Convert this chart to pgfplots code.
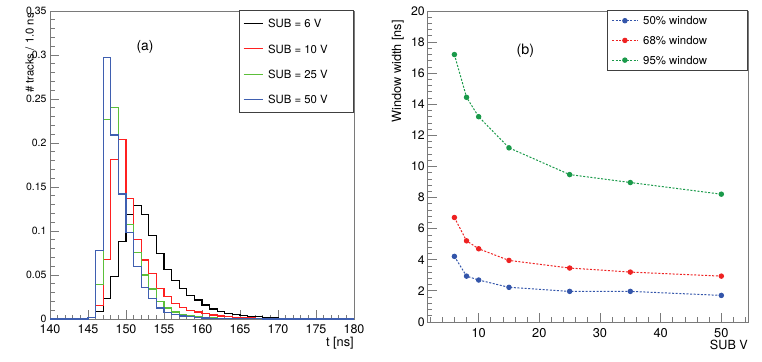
\documentclass[border=0pt]{standalone}
\usepackage{fontspec}
\setmainfont{TeX Gyre Heros}
\usepackage{pgfplots}
\usepackage{pgfplotstable}
\pgfplotsset{compat=1.18}

\definecolor{hred}{HTML}{FF2020}
\definecolor{hgreen}{HTML}{5CBF3A}
\definecolor{hblue}{HTML}{3F5FB0}
\definecolor{wblue}{HTML}{3355AA}
\definecolor{wred}{HTML}{EE2222}
\definecolor{wgreen}{HTML}{1A9A4A}
\definecolor{framegray}{HTML}{7A7A7A}

% time distributions, one row per 1 ns bin (left edge), last row closes the step
\pgfplotstableread{
t    v6     v10    v25    v50
140  0      0      0      0
141  0      0      0      0
142  0      0      0      0
143  0      0      0      0
144  0      0      0      0
145  0.002  0.002  0.002  0.002
146  0.0087 0.0156 0.039  0.0775
147  0.023  0.068  0.227  0.297
148  0.0486 0.181  0.240  0.209
149  0.0885 0.204  0.142  0.142
150  0.119  0.137  0.107  0.098
151  0.129  0.090  0.076  0.060
152  0.119  0.067  0.050  0.036
153  0.095  0.052  0.034  0.023
154  0.074  0.035  0.020  0.0125
155  0.056  0.026  0.0125 0.0075
156  0.044  0.018  0.008  0.005
157  0.035  0.013  0.005  0.0035
158  0.027  0.010  0.0035 0.0025
159  0.0215 0.008  0.0025 0.0018
160  0.016  0.006  0.0018 0.0012
161  0.0113 0.0045 0.0012 0.001
162  0.0083 0.0035 0.001  0.0007
163  0.0064 0.0025 0.0007 0.0005
164  0.005  0.002  0.0005 0.0004
165  0.004  0.0015 0.0004 0.0003
166  0.003  0.0012 0.0003 0.0002
167  0.0025 0.001  0.0003 0.0002
168  0.002  0.0008 0.0002 0.0001
169  0.0015 0.0006 0.0002 0.0001
170  0.001  0.0004 0.0001 0.0001
171  0.0008 0.0003 0.0001 0
172  0.0006 0.0003 0.0001 0
173  0.0005 0.0002 0      0
174  0.0004 0.0002 0      0
175  0.0003 0.0001 0      0
176  0.0002 0.0001 0      0
177  0.0002 0      0      0
178  0.0001 0      0      0
179  0.0001 0      0      0
180  0.0001 0      0      0
}\histtab

% window widths vs substrate voltage
\pgfplotstableread{
sub  w50  w68  w95
6    4.22 6.72 17.2
8    2.95 5.22 14.45
10   2.70 4.71 13.2
15   2.23 3.96 11.2
25   1.97 3.47 9.48
35   1.97 3.21 8.97
50   1.71 2.95 8.22
}\wintab

\pgfplotsset{
  rootax/.style={
    scale only axis,
    axis line style={framegray, line width=0.8pt},
    tick style={framegray, line width=0.8pt},
    tick align=inside,
    major tick length=9pt,
    minor tick length=4.5pt,
    xtick pos=left, ytick pos=left,
    /pgf/number format/assume math mode=true,
    clip=false,
  },
}

\begin{document}
\begin{tikzpicture}
\useasboundingbox (0pt,0pt) rectangle (762pt,361pt);

% (a) histograms
\begin{axis}[rootax,
  at={(50pt,42pt)}, anchor=south west,
  width=304pt, height=308pt,
  xmin=140, xmax=180, ymin=0, ymax=0.35,
  xtick={140,145,...,180}, minor x tick num=4,
  ytick={0,0.05,0.1,0.15,0.2,0.25,0.3,0.35}, minor y tick num=4,
  xticklabel style={font=\fontsize{12.5}{14}\selectfont, inner sep=0pt, yshift=-5pt},
  yticklabel style={font=\fontsize{10.5}{12}\selectfont, inner sep=0pt, xshift=-3.3pt,
    /pgf/number format/fixed, /pgf/number format/precision=2},
  xlabel={t [ns]},
  xlabel style={at={(axis description cs:1,-0.0575)}, anchor=north east, inner sep=0pt,
    font=\fontsize{12.8}{14}\selectfont},
  ylabel={\# tracks / 1.0 ns},
  ylabel style={at={(axis description cs:-0.0526,0.9935)}, anchor=south east, inner sep=0pt,
    font=\fontsize{11.3}{13}\selectfont},
  legend image code/.code={\draw[#1] (0pt,0pt) -- (19pt,0pt);},
  legend style={at={(axis description cs:1,1.003)}, anchor=north east,
    draw=black!75, line width=0.8pt, fill=white,
    font=\fontsize{11.35}{13}\selectfont,
    inner xsep=3.5pt, inner ysep=8.9pt, row sep=16.8pt,
    cells={anchor=center}, nodes={inner sep=0pt, text depth=0pt},
    /tikz/every odd column/.append style={column sep=5pt}},
]
\addplot[const plot, black, line width=1.2pt] table[x=t, y=v6] {\histtab};
\addplot[const plot, hred, line width=1.2pt] table[x=t, y=v10] {\histtab};
\addplot[const plot, hgreen, line width=1.2pt] table[x=t, y=v25] {\histtab};
\addplot[const plot, hblue, line width=1.2pt] table[x=t, y=v50] {\histtab};
\legend{\makebox[82pt][l]{SUB = 6 V}, \makebox[82pt][l]{SUB = 10 V},
        \makebox[82pt][l]{SUB = 25 V}, \makebox[82pt][l]{SUB = 50 V}}
\node[font=\fontsize{13.8}{15}\selectfont] at (axis cs:152.5,0.309) {(a)};
\end{axis}

% (b) window widths
\begin{axis}[rootax,
  at={(427.7pt,39pt)}, anchor=south west,
  width=320.3pt, height=311pt,
  xmin=1.6, xmax=54.4, ymin=0, ymax=20,
  xtick={10,20,...,50}, minor xtick={2,4,6,8,12,14,16,18,22,24,26,28,32,34,36,38,42,44,46,48,52,54},
  ytick={0,2,...,20}, minor y tick num=4,
  xticklabel style={font=\fontsize{12.8}{14}\selectfont, inner sep=0pt, yshift=-6pt},
  yticklabel style={font=\fontsize{12.3}{14}\selectfont, inner sep=0pt, xshift=-2.7pt},
  xlabel={SUB V},
  xlabel style={at={(axis description cs:1,-0.0579)}, anchor=north east, inner sep=0pt,
    font=\fontsize{12.6}{14}\selectfont},
  ylabel={Window width [ns]},
  ylabel style={at={(axis description cs:-0.074,0.971)}, anchor=south east, inner sep=0pt,
    font=\fontsize{12.7}{14}\selectfont},
  legend image code/.code={\draw[mark repeat=2, mark phase=2, #1] plot coordinates {(0pt,0pt) (12.8pt,0pt) (25.6pt,0pt)};},
  legend style={at={(axis description cs:1,1.003)}, anchor=north east,
    draw=black!75, line width=0.8pt, fill=white,
    font=\fontsize{11.4}{13}\selectfont,
    inner xsep=4.4pt, inner ysep=6.1pt, row sep=11.4pt,
    cells={anchor=center}, nodes={inner sep=0pt, text depth=0pt},
    /tikz/every odd column/.append style={column sep=5pt}},
  every axis plot/.append style={line width=1pt, dash pattern=on 2pt off 1.6pt,
    mark=*, mark size=2.2pt, mark options={solid}},
]
\addplot[wblue] table[x=sub, y=w50] {\wintab};
\addplot[wred] table[x=sub, y=w68] {\wintab};
\addplot[wgreen] table[x=sub, y=w95] {\wintab};
\legend{\makebox[100pt][l]{50\% window}, \makebox[100pt][l]{68\% window},
        \makebox[100pt][l]{95\% window}}
\node[font=\fontsize{14.3}{16}\selectfont] at (axis cs:17.7,17.45) {(b)};
\end{axis}
\end{tikzpicture}
\end{document}
